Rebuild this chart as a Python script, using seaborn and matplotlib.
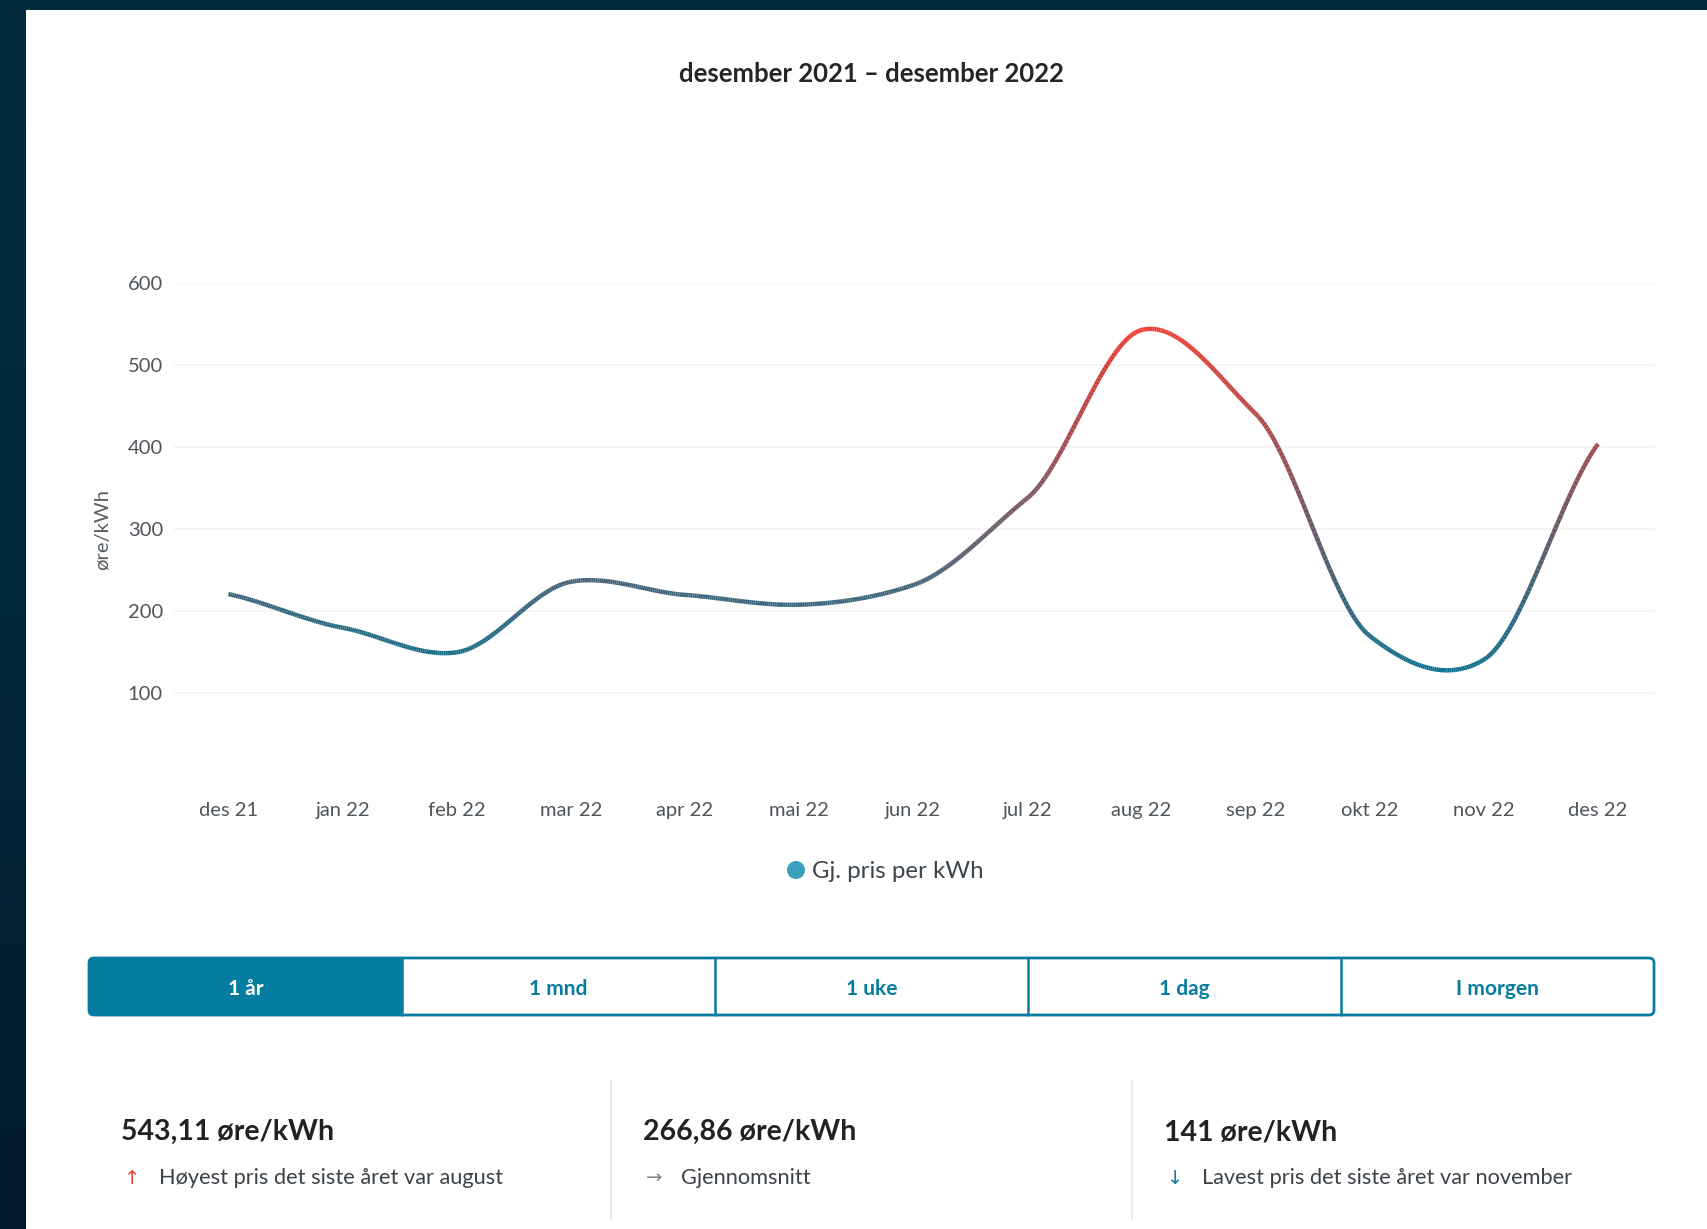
import numpy as np
import pandas as pd
import seaborn as sns
import matplotlib
matplotlib.use("Agg")
import matplotlib.pyplot as plt
from matplotlib.collections import LineCollection
from matplotlib.colors import LinearSegmentedColormap, Normalize
from matplotlib.patches import FancyBboxPatch, Rectangle, Circle

# ---------------- data ----------------
months = ["des 21", "jan 22", "feb 22", "mar 22", "apr 22", "mai 22", "jun 22",
          "jul 22", "aug 22", "sep 22", "okt 22", "nov 22", "des 22"]
prices = [221, 180, 150, 236, 220, 208, 232, 338, 543, 441, 170, 141, 404]
yticks = [100, 200, 300, 400, 500, 600]
title = "desember 2021 \u2013 desember 2022"
legend_label = "Gj. pris per kWh"
buttons = ["1 år", "1 mnd", "1 uke", "1 dag", "I morgen"]
stat_values = ["543,11 øre/kWh", "266,86 øre/kWh", "141 øre/kWh"]
stat_texts = ["Høyest pris det siste året var august", "Gjennomsnitt",
              "Lavest pris det siste året var november"]
stat_arrows = ["\u2191", "\u2192", "\u2193"]

sns.set_theme(style="white")
FONT = ["Lato", "DejaVu Sans"]
plt.rcParams["font.family"] = FONT

W, H = 1707, 1229
fig = plt.figure(figsize=(W / 100, H / 100), dpi=100)

# background overlay axes in pixel coordinates
bg = fig.add_axes([0, 0, 1, 1], zorder=0)
bg.set_xlim(0, W)
bg.set_ylim(H, 0)
bg.axis("off")
grad = np.linspace(0, 1, 256).reshape(-1, 1)
dark = LinearSegmentedColormap.from_list("dk", ["#032c3f", "#02273a", "#011a2b"])
bg.imshow(grad, cmap=dark, extent=[0, W, H, 0], aspect="auto", zorder=0)
bg.add_patch(Rectangle((26, 10), W - 26, H - 10, facecolor="white", edgecolor="none", zorder=1))

# title
bg.text(871, 74, title, ha="center", va="center", fontsize=18.5, fontweight="bold",
        color="#222629", zorder=3)

# legend
bg.add_patch(Circle((796, 870), 9, facecolor="#3a9fbb", edgecolor="none", zorder=3))
bg.text(812, 871, legend_label, ha="left", va="center", fontsize=17.3, color="#3d454c", zorder=3)

# buttons
teal = "#077ca1"
x0, x1, yb0, yb1 = 89, 1654, 958, 1015
seg = (x1 - x0) / 5
bg.add_patch(FancyBboxPatch((x0, yb0), seg, yb1 - yb0, boxstyle="round,pad=0,rounding_size=5",
                            facecolor=teal, edgecolor="none", zorder=2))
bg.add_patch(Rectangle((x0 + seg - 8, yb0), 8, yb1 - yb0, facecolor=teal, edgecolor="none", zorder=2))
bg.add_patch(FancyBboxPatch((x0, yb0), x1 - x0, yb1 - yb0, boxstyle="round,pad=0,rounding_size=5",
                            facecolor="none", edgecolor=teal, linewidth=2, zorder=3))
for i in range(1, 5):
    bg.plot([x0 + i * seg] * 2, [yb0, yb1], color=teal, lw=1.8, zorder=3)
for i, b in enumerate(buttons):
    bg.text(x0 + (i + 0.5) * seg, 989, b, ha="center", va="center", fontsize=15,
            fontweight="bold", color="white" if i == 0 else teal, zorder=4)

# stats
for xd in (611, 1132):
    bg.plot([xd, xd], [1080, 1220], color="#e6e6e6", lw=1.2, zorder=2)
stat_x = [121, 643, 1164]
arrow_cols = ["#e2473d", "#7c858c", "#1a7ca0"]
for i in range(3):
    bg.text(stat_x[i], 1132, stat_values[i], ha="left", va="center", fontsize=20.5,
            fontweight="bold", color="#1f2326", zorder=3)
    bg.text(stat_x[i] + 11, 1178, stat_arrows[i], ha="center", va="center", fontsize=14,
            color=arrow_cols[i], family=["DejaVu Sans"], zorder=3)
    bg.text(stat_x[i] + 38, 1178, stat_texts[i], ha="left", va="center", fontsize=15.7,
            color="#3b4248", zorder=3)

# ---------------- chart ----------------
ax = fig.add_axes([174 / W, 1 - 775.3 / H, (1655 - 174) / W, (775.3 - 283.3) / H], zorder=2)
ax.patch.set_alpha(0)

# smooth (cardinal spline) rendering of the monthly values
xs = np.arange(len(prices), dtype=float)
ys = np.array(prices, dtype=float)
n = len(ys)
k = 0.72
tang = np.zeros(n)
tang[1:-1] = k * (ys[2:] - ys[:-2]) / 2
tang[0] = k * (ys[1] - ys[0])
tang[-1] = k * (ys[-1] - ys[-2])
sx, sy = [], []
for i in range(n - 1):
    t = np.linspace(0, 1, 60, endpoint=(i == n - 2))
    h00 = 2 * t**3 - 3 * t**2 + 1
    h10 = t**3 - 2 * t**2 + t
    h01 = -2 * t**3 + 3 * t**2
    h11 = t**3 - t**2
    sx.append(xs[i] + t)
    sy.append(h00 * ys[i] + h10 * tang[i] + h01 * ys[i + 1] + h11 * tang[i + 1])
sx = np.concatenate(sx)
sy = np.concatenate(sy)
curve = pd.DataFrame({"x": sx, "y": sy})

sns.lineplot(data=curve, x="x", y="y", ax=ax, color="#3a647b", linewidth=0, legend=False)

pts = np.column_stack([sx, sy]).reshape(-1, 1, 2)
segs = np.concatenate([pts[:-1], pts[1:]], axis=1)
cmap = LinearSegmentedColormap.from_list("pr", ["#0b6f8e", "#ee3d32"])
lc = LineCollection(segs, cmap=cmap, norm=Normalize(sy.min(), sy.max()),
                    linewidth=3.2, capstyle="butt", joinstyle="round")
lc.set_array((sy[:-1] + sy[1:]) / 2)
ax.add_collection(lc)

ax.set_xlim(-0.477, 12.5)
ax.set_ylim(0, 600)
ax.set_yticks(yticks)
ax.set_yticklabels([str(v) for v in yticks])
ax.set_xticks(xs)
ax.set_xticklabels(months)
ax.yaxis.grid(True, color="#f2f2f2", linewidth=1.2)
ax.xaxis.grid(False)
for s in ax.spines.values():
    s.set_visible(False)
ax.tick_params(axis="y", length=0, pad=8, labelsize=14.5, labelcolor="#4e555b")
ax.tick_params(axis="x", length=0, pad=19, labelsize=14.5, labelcolor="#4e555b")
ax.set_xlabel("")
ax.set_ylabel("øre/kWh", fontsize=14.5, color="#555c62", labelpad=12)

fig.savefig("out.png", dpi=100)
